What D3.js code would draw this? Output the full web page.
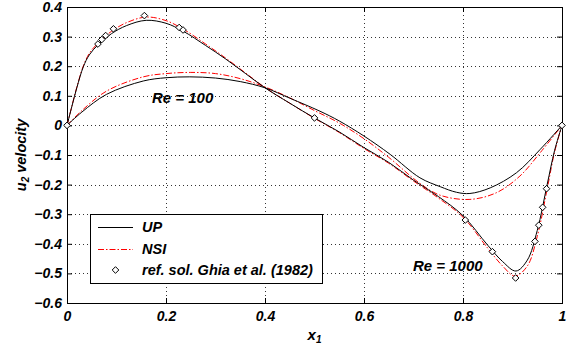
<!DOCTYPE html>
<html><head><meta charset="utf-8">
<script src="https://cdn.jsdelivr.net/npm/d3@7"></script>
<style>
body{margin:0;background:#fff;}
svg{display:block;font-family:"Liberation Sans",Arial,Helvetica,sans-serif;}
.lab{font-weight:bold;font-style:italic;}
</style></head><body>
<svg id="c" width="572" height="352"></svg>
<script>
// ---- data ----
const xTicks = [0, 0.2, 0.4, 0.6, 0.8, 1];
const yTicks = [-0.6, -0.5, -0.4, -0.3, -0.2, -0.1, 0, 0.1, 0.2, 0.3, 0.4];

const upRe100X = [0, 0.03, 0.08, 0.154, 0.2, 0.248, 0.3, 0.35, 0.4, 0.45, 0.511, 0.55, 0.6, 0.653, 0.713, 0.754, 0.787, 0.814, 0.855, 0.908, 0.956, 1];
const upRe100Y = [0, 0.045, 0.105, 0.150, 0.161, 0.164, 0.16, 0.148, 0.127, 0.092, 0.048, 0.015, -0.036, -0.098, -0.177, -0.207, -0.226, -0.230, -0.211, -0.160, -0.081, 0];

const nsiRe100X = [0, 0.03, 0.08, 0.154, 0.2, 0.25, 0.3, 0.35, 0.4, 0.45, 0.5, 0.55, 0.6, 0.65, 0.713, 0.754, 0.814, 0.868, 0.915, 0.956, 1];
const nsiRe100Y = [0, 0.05, 0.116, 0.164, 0.175, 0.179, 0.175, 0.158, 0.13, 0.093, 0.05, 0.008, -0.045, -0.108, -0.196, -0.236, -0.250, -0.227, -0.171, -0.092, 0];

const upRe1000X = [0, 0.01, 0.02, 0.033, 0.045, 0.0625, 0.09, 0.12, 0.16, 0.2, 0.235, 0.28, 0.32, 0.36, 0.4, 0.45, 0.5, 0.55, 0.6, 0.65, 0.7, 0.75, 0.8, 0.85, 0.88, 0.907, 0.93, 0.95, 0.97, 0.985, 1];
const upRe1000Y = [0, 0.065, 0.128, 0.198, 0.238, 0.272, 0.31, 0.337, 0.355, 0.345, 0.318, 0.27, 0.225, 0.176, 0.127, 0.075, 0.025, -0.022, -0.075, -0.125, -0.185, -0.24, -0.305, -0.405, -0.46, -0.492, -0.455, -0.355, -0.2, -0.085, 0];

const nsiRe1000X = [0, 0.01, 0.02, 0.033, 0.045, 0.0625, 0.09, 0.12, 0.16, 0.2, 0.235, 0.28, 0.32, 0.36, 0.4, 0.45, 0.5, 0.55, 0.6, 0.65, 0.7, 0.75, 0.8, 0.85, 0.88, 0.905, 0.93, 0.95, 0.97, 0.985, 1];
const nsiRe1000Y = [0, 0.066, 0.13, 0.201, 0.243, 0.278, 0.318, 0.347, 0.366, 0.354, 0.325, 0.275, 0.228, 0.178, 0.128, 0.075, 0.024, -0.024, -0.078, -0.128, -0.188, -0.245, -0.31, -0.415, -0.475, -0.509, -0.475, -0.375, -0.215, -0.09, 0];

const ghiaX = [0, 0.0625, 0.0703, 0.0781, 0.0938, 0.1563, 0.2266, 0.2344, 0.5, 0.8047, 0.8594, 0.9063, 0.9453, 0.9531, 0.9609, 0.9688, 1];
const ghiaY = [0, 0.27485, 0.29012, 0.30353, 0.32627, 0.37095, 0.33075, 0.32235, 0.02526, -0.31966, -0.42665, -0.51550, -0.39188, -0.33714, -0.27669, -0.21388, 0];

const legendLabels = ["UP", "NSI", "ref. sol. Ghia et al. (1982)"];

// ---- drawing ----
const svg = d3.select("#c");
const L = 67, R = 562, T = 7, B = 303;
const x = d3.scaleLinear().domain([0, 1]).range([L, R]);
const y = d3.scaleLinear().domain([-0.6, 0.4]).range([B, T]);

const fmt = v => (v === 0 ? "0" : (v === 1 ? "1" : d3.format(".1f")(v).replace("-", "\u2212")));

// grid
const grid = svg.append("g");
grid.selectAll("line.gx").data(xTicks.slice(1, -1)).join("line")
  .attr("x1", d => x(d) + 0.5).attr("x2", d => x(d) + 0.5).attr("y1", T).attr("y2", B)
  .attr("stroke", "#333").attr("stroke-width", 1).attr("stroke-dasharray", "1,3");
grid.selectAll("line.gy").data(yTicks.slice(1, -1)).join("line")
  .attr("y1", d => Math.round(y(d)) + 0.5).attr("y2", d => Math.round(y(d)) + 0.5).attr("x1", L).attr("x2", R)
  .attr("stroke", "#333").attr("stroke-width", 1).attr("stroke-dasharray", "1,3");

// axes (inner ticks on all four sides)
const axB = d3.axisBottom(x).tickValues(xTicks).tickSize(-5).tickFormat(fmt).tickPadding(8);
const axT = d3.axisTop(x).tickValues(xTicks).tickSize(-5).tickFormat("");
const axLft = d3.axisLeft(y).tickValues(yTicks).tickSize(-5).tickFormat(fmt).tickPadding(5);
const axRt = d3.axisRight(y).tickValues(yTicks).tickSize(-5).tickFormat("");
function style(g){
  g.select(".domain").remove();
  g.selectAll("line").attr("stroke", "#000");
  g.selectAll("text").attr("class", "lab").attr("font-size", 14).attr("fill", "#000");
}
svg.append("g").attr("transform", `translate(0,${B})`).call(axB).call(style);
svg.append("g").attr("transform", `translate(0,${T})`).call(axT).call(style);
svg.append("g").attr("transform", `translate(${L},0)`).call(axLft).call(style);
svg.append("g").attr("transform", `translate(${R},0)`).call(axRt).call(style);
svg.append("rect").attr("x", L + 0.5).attr("y", T + 0.5).attr("width", R - L).attr("height", B - T)
  .attr("fill", "none").attr("stroke", "#000").attr("stroke-width", 1);

// curves
const line = d3.line().x(d => x(d[0])).y(d => y(d[1])).curve(d3.curveCatmullRom.alpha(0.5));
const zip = (a, b) => a.map((v, i) => [v, b[i]]);
const series = [
  {d: zip(nsiRe100X, nsiRe100Y), c: "#f00", dash: "6,2,1.5,2"},
  {d: zip(nsiRe1000X, nsiRe1000Y), c: "#f00", dash: "6,2,1.5,2"},
  {d: zip(upRe100X, upRe100Y), c: "#000", dash: null},
  {d: zip(upRe1000X, upRe1000Y), c: "#000", dash: null}
];
svg.append("g").selectAll("path").data(series).join("path")
  .attr("d", s => line(s.d)).attr("fill", "none").attr("stroke", s => s.c)
  .attr("stroke-width", 1).attr("stroke-dasharray", s => s.dash);

// markers
const diamond = d3.symbol().type(d3.symbolDiamond2).size(28);
svg.append("g").selectAll("path").data(zip(ghiaX, ghiaY)).join("path")
  .attr("transform", d => `translate(${x(d[0])},${y(d[1])})`).attr("d", diamond)
  .attr("fill", "#fff").attr("stroke", "#000").attr("stroke-width", 1);

// annotations
svg.append("text").attr("class", "lab").attr("x", 152).attr("y", 103).attr("font-size", 15).text("Re = 100");
svg.append("text").attr("class", "lab").attr("x", 413).attr("y", 271).attr("font-size", 15).text("Re = 1000");

// axis labels
const xl = svg.append("text").attr("class", "lab").attr("x", (L + R) / 2).attr("y", 340).attr("text-anchor", "middle").attr("font-size", 15);
xl.append("tspan").text("x");
xl.append("tspan").attr("font-size", 10).attr("dy", 3).text("1");
const yl = svg.append("text").attr("class", "lab").attr("transform", `translate(26,${(T + B) / 2}) rotate(-90)`).attr("text-anchor", "middle").attr("font-size", 14.5);
yl.append("tspan").text("u");
yl.append("tspan").attr("font-size", 10).attr("dy", 3).text("2");
yl.append("tspan").attr("dy", -3).text(" velocity");

// legend
const lg = svg.append("g");
lg.append("rect").attr("x", 90.5).attr("y", 214.5).attr("width", 232).attr("height", 69)
  .attr("fill", "#fff").attr("stroke", "#000");
const ly = [227, 249, 270];
lg.append("line").attr("x1", 98).attr("x2", 133).attr("y1", ly[0] + 0.5).attr("y2", ly[0] + 0.5).attr("stroke", "#000");
lg.append("line").attr("x1", 98).attr("x2", 133).attr("y1", ly[1] + 0.5).attr("y2", ly[1] + 0.5).attr("stroke", "#f00").attr("stroke-dasharray", "6,2,1.5,2");
lg.append("path").attr("transform", `translate(115.5,${ly[2]})`).attr("d", diamond).attr("fill", "#fff").attr("stroke", "#000");
lg.selectAll("text").data(legendLabels).join("text").attr("class", "lab")
  .attr("x", 142).attr("y", (d, i) => ly[i] + 5).attr("font-size", 14.5).text(d => d);
</script>
</body></html>
